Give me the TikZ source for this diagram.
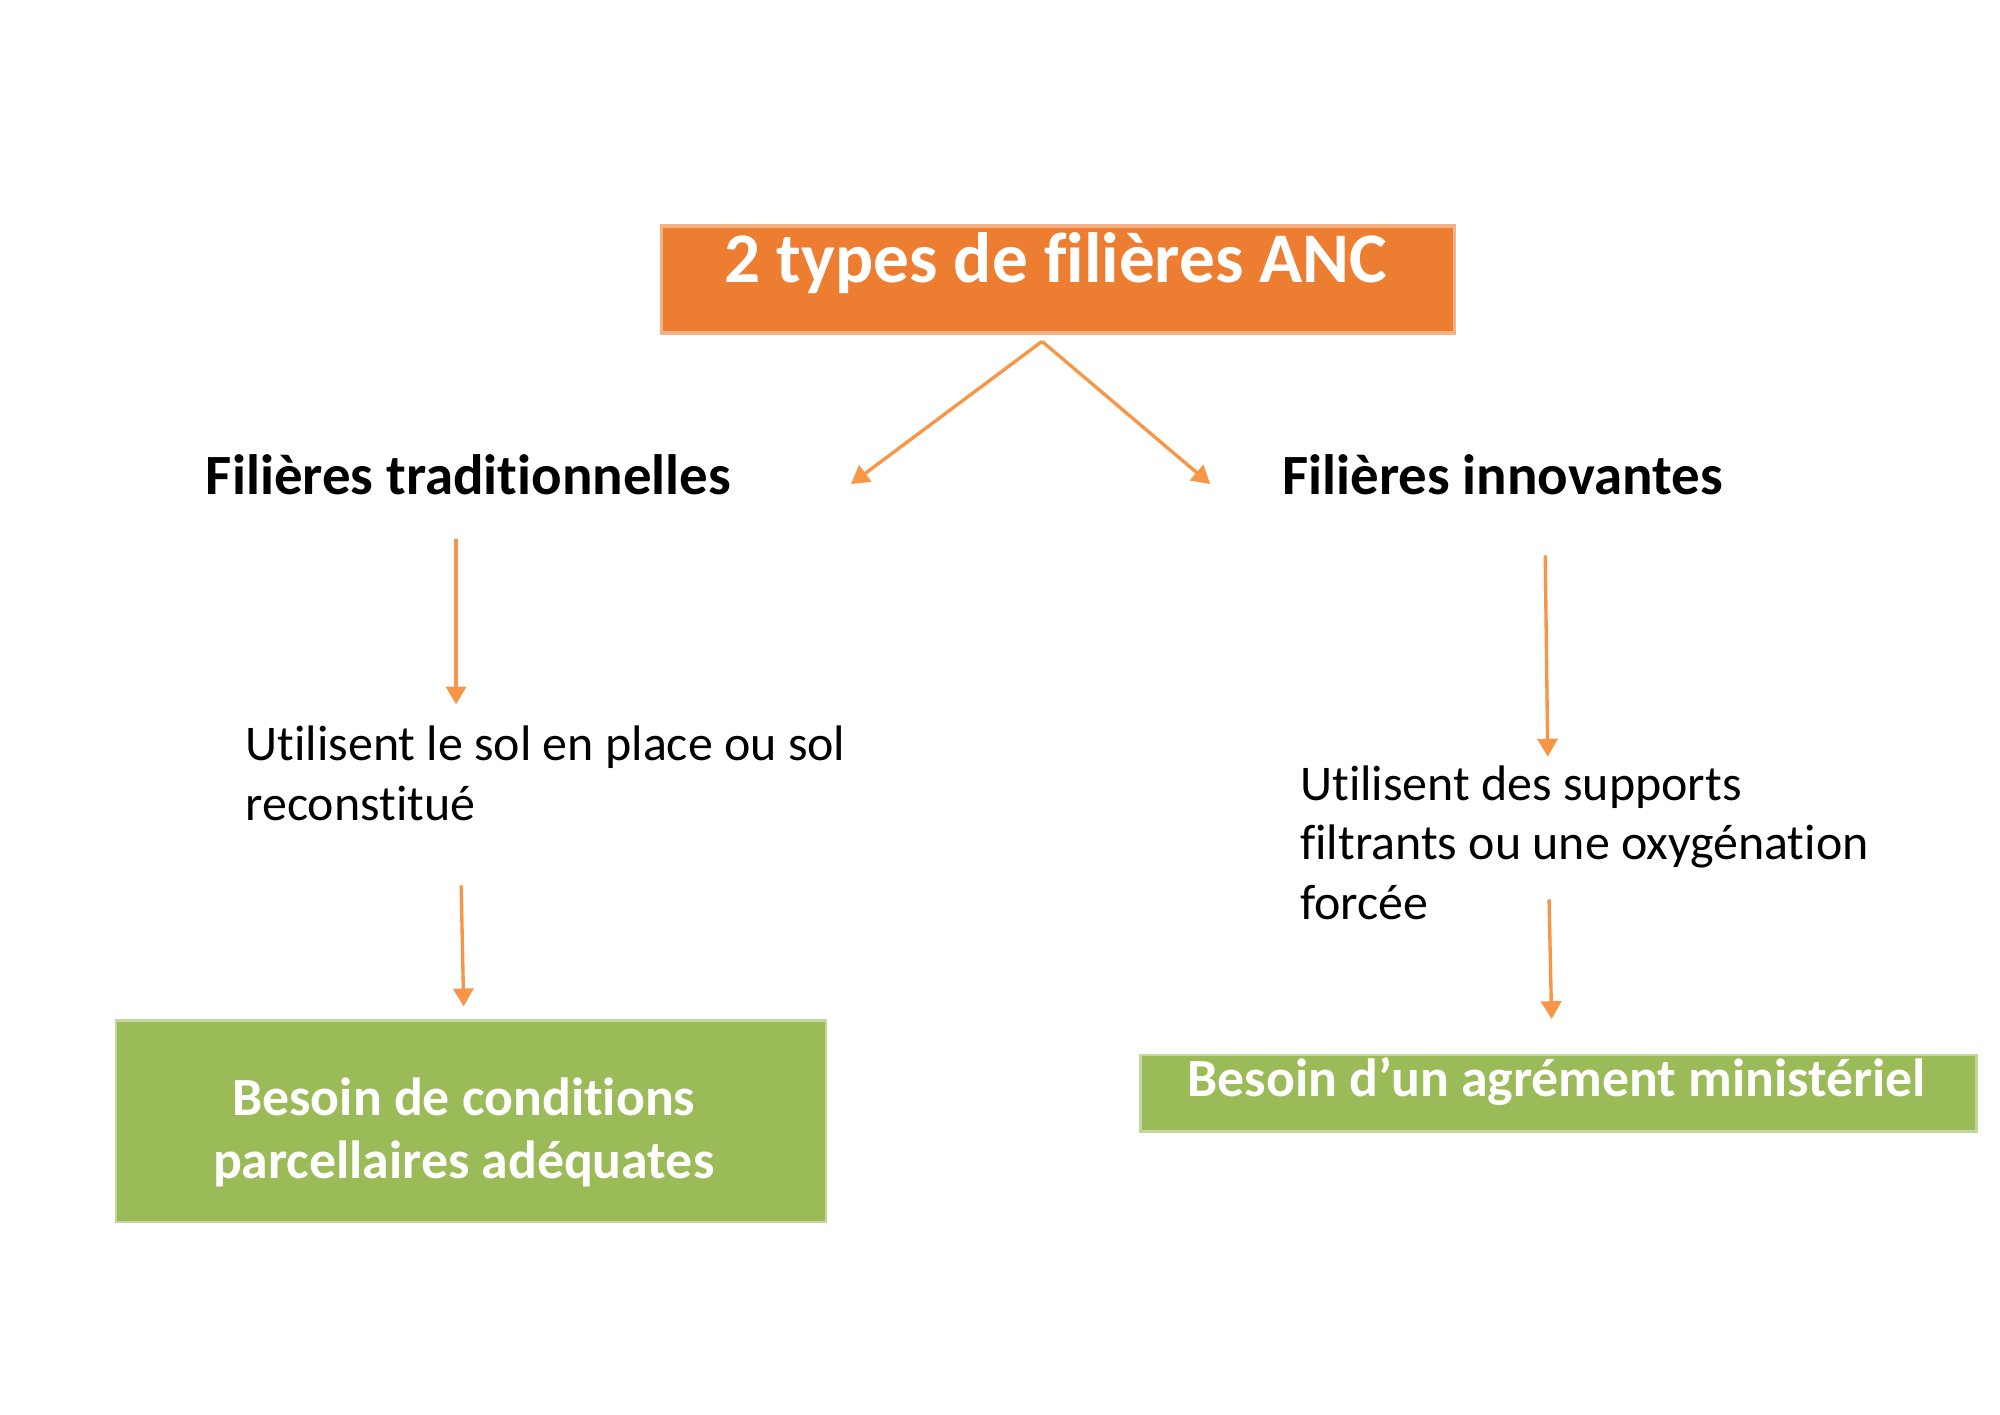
\documentclass[tikz,border=0pt]{standalone}
\usepackage{fontspec}
\setmainfont{Carlito}[Ligatures=NoCommon]
\usetikzlibrary{arrows.meta}
\definecolor{ancorange}{HTML}{ED7D31}
\definecolor{ancorangeline}{HTML}{F4B183}
\definecolor{ancarrow}{HTML}{F79646}
\definecolor{ancgreen}{HTML}{9BBB59}
\definecolor{ancgreenline}{HTML}{C3D69B}
\tikzset{
  conn/.style={draw=ancarrow, line width=0.75pt, -{Triangle[length=4pt,width=4.5pt]}},
  orangebox/.style={draw=ancorangeline, line width=0.8pt, fill=ancorange, inner sep=0pt, anchor=north west},
  greenbox/.style={draw=ancgreenline, line width=0.6pt, fill=ancgreen, inner sep=0pt, anchor=north west},
  titletext/.style={text=white, font=\bfseries\fontsize{15.9}{19}\selectfont, inner sep=0pt, anchor=base},
  headtext/.style={text=black, font=\bfseries\fontsize{12.7}{15}\selectfont, inner sep=0pt, anchor=base west},
  bodytext/.style={text=black, font=\fontsize{11.15}{13.4}\selectfont, inner sep=0pt, anchor=base west, align=left},
  greentext/.style={text=white, font=\bfseries\fontsize{12}{14}\selectfont, inner sep=0pt, anchor=base, align=center},
}
\begin{document}
\begin{tikzpicture}[x=0.01cm,y=-0.01cm]
\useasboundingbox[fill=white] (0,0) rectangle (1570,1110);
% top box
\node[orangebox, minimum width=6.22cm, minimum height=0.84cm] (topbox) at (518,176) {};
\node[titletext] (title) at (829,222) {2 types de filières ANC};
% headers
\node[headtext] (trad) at (161,388) {Filières traditionnelles};
\node[headtext] (inno) at (1006,388) {Filières innovantes};
% body texts
\node[bodytext] (sol1) at (192,597) {Utilisent le sol en place ou sol};
\node[bodytext] (sol2) at (192,644) {reconstitué};
\node[bodytext] (sup1) at (1020,628) {Utilisent des supports};
\node[bodytext] (sup2) at (1020,675) {filtrants ou une oxygénation};
\node[bodytext] (sup3) at (1020,722) {forcée};
% green boxes
\node[greenbox, minimum width=5.57cm, minimum height=1.58cm] (gleft) at (90,800) {};
\node[greentext] (gl1) at (364,876) {Besoin de conditions};
\node[greentext] (gl2) at (364,925) {parcellaires adéquates};
\node[greenbox, minimum width=6.56cm, minimum height=0.60cm] (gright) at (894,827) {};
\node[greentext] (gr1) at (1222,861) {Besoin d’un agrément ministériel};
% connector endpoints
\coordinate (split) at (818,268);
\coordinate (tradin) at (668,380);
\coordinate (innoin) at (950,380);
\coordinate (a1s) at (358,423);
\coordinate (a1e) at (358,553);
\coordinate (a2s) at (362,695);
\coordinate (a2e) at (364,790);
\coordinate (a3s) at (1213,436);
\coordinate (a3e) at (1215,594);
\coordinate (a4s) at (1216,706);
\coordinate (a4e) at (1218,800);
\draw[conn] (split) -- (tradin);
\draw[conn] (split) -- (innoin);
\draw[conn] (a1s) -- (a1e);
\draw[conn] (a2s) -- (a2e);
\draw[conn] (a3s) -- (a3e);
\draw[conn] (a4s) -- (a4e);
\end{tikzpicture}
\end{document}
